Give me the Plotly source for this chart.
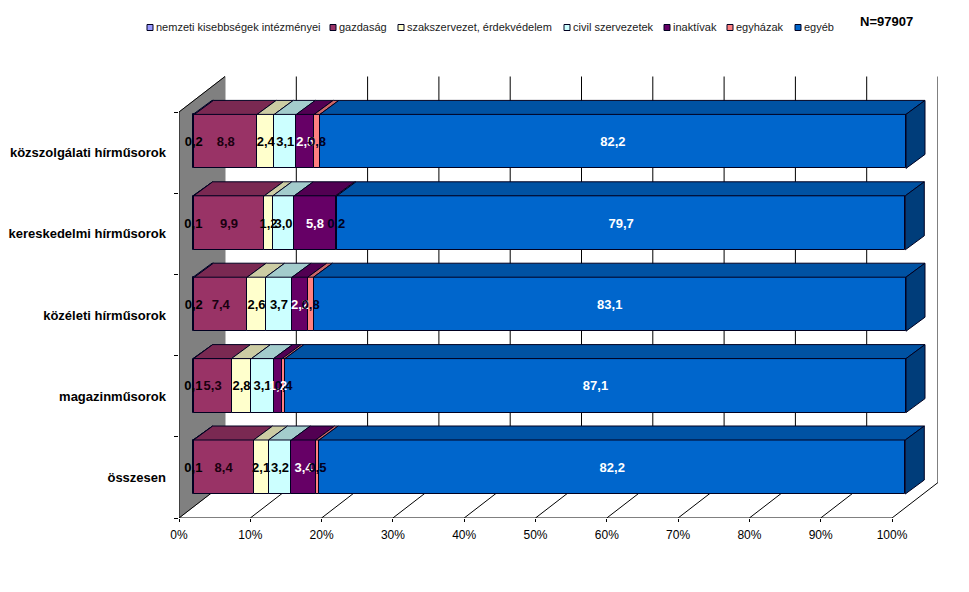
import plotly.graph_objects as go

categories = ["közszolgálati hírműsorok", "kereskedelmi hírműsorok", "közéleti hírműsorok", "magazinműsorok", "összesen"]
series_names = ["nemzeti kisebbségek intézményei", "gazdaság", "szakszervezet, érdekvédelem", "civil szervezetek", "inaktívak", "egyházak", "egyéb"]
nemzeti = [0.2, 0.1, 0.2, 0.1, 0.1]
gazdasag = [8.8, 9.9, 7.4, 5.3, 8.4]
szakszervezet = [2.4, 1.2, 2.6, 2.8, 2.1]
civil = [3.1, 3.0, 3.7, 3.1, 3.2]
inaktivak = [2.5, 5.8, 2.2, 1.2, 3.4]
egyhazak = [0.8, 0.2, 0.8, 0.4, 0.5]
egyeb = [82.2, 79.7, 83.1, 87.1, 82.2]
series_values = [nemzeti, gazdasag, szakszervezet, civil, inaktivak, egyhazak, egyeb]
front_colors = ["#9999FF", "#993366", "#FFFFCC", "#CCFFFF", "#660066", "#FF8080", "#0066CC"]
top_colors = ["#7A7ACC", "#7A2952", "#CCCCA3", "#A3CCCC", "#520052", "#CC6666", "#0052A3"]
side_color = "#003D7A"
label_colors = ["#000000", "#1a0010", "#000000", "#000000", "#FFFFFF", "#000020", "#FFFFFF"]
x_ticks = [0, 10, 20, 30, 40, 50, 60, 70, 80, 90, 100]
legend_swatch_px = [147, 330, 398, 564, 664, 727, 795]
EDGE = "#000020"
FONT = "Liberation Sans, Arial, sans-serif"

W, H = 969, 592
L, R, T, B = 179, 938, 76, 518           # plot area in pixels
X_SCALE = 7.13                            # px per percent
Y_SCALE = 81.2                            # px per category band
Y2_SCALE = 81.4
BAR_X0 = 193                              # px of 0 % on bars' front face
BAR_Y0 = 467                              # px of the lowest bar's centre
WALL_DX = (225 - 179) / X_SCALE
WALL_DY = 35.5 / Y_SCALE
DEPTH_X = 19 / X_SCALE
DEPTH_Y = 14 / Y2_SCALE
BAR_H = 54 / Y2_SCALE
LABEL_DROP = 1.5 / Y2_SCALE

n = len(categories)
ypos = [n - 1 - i for i in range(n)]


def paper_x(px):
    return (px - L) / (R - L)


def paper_y(px):
    return (B - px) / (B - T)


fig = go.Figure()

# left wall
fig.add_trace(go.Scatter(
    x=[0, WALL_DX, WALL_DX, 0, 0],
    y=[-0.5, -0.5 + WALL_DY, n - 0.5 + WALL_DY, n - 0.5, -0.5],
    mode="lines", fill="toself", fillcolor="#808080",
    line=dict(color="#808080", width=1), showlegend=False, hoverinfo="skip",
))
# back and floor grid
gx, gy = [], []
for t in x_ticks[1:]:
    gx += [t, t + WALL_DX, t + WALL_DX, None]
    gy += [-0.5, -0.5 + WALL_DY, n - 0.5 + WALL_DY, None]
fig.add_trace(go.Scatter(x=gx, y=gy, mode="lines", line=dict(color="#000000", width=1),
                         showlegend=False, hoverinfo="skip"))
# axis edges
fig.add_trace(go.Scatter(
    x=[0, 0, None, 0, 100, None, 0, WALL_DX, None, 0, WALL_DX],
    y=[-0.5, n - 0.5, None, -0.5, -0.5, None, -0.5, -0.5 + WALL_DY, None, n - 0.5, n - 0.5 + WALL_DY],
    mode="lines", line=dict(color="#000000", width=1), showlegend=False, hoverinfo="skip"))

# stacked bars on the shifted overlay axes
cum = [0.0] * n
for name, vals, fc, tc in zip(series_names, series_values, front_colors, top_colors):
    fig.add_trace(go.Bar(
        y=ypos, x=vals, base=cum, orientation="h", width=BAR_H, name=name,
        marker=dict(color=fc, line=dict(color=EDGE, width=1)),
        xaxis="x2", yaxis="y2", showlegend=False,
    ))
    tx, ty = [], []
    for b, v, y in zip(cum, vals, ypos):
        yt = y + BAR_H / 2
        tx += [b, b + DEPTH_X, b + v + DEPTH_X, b + v, b, None]
        ty += [yt, yt + DEPTH_Y, yt + DEPTH_Y, yt, yt, None]
    fig.add_trace(go.Scatter(x=tx, y=ty, mode="lines", fill="toself", fillcolor=tc,
                             line=dict(color=EDGE, width=1), xaxis="x2", yaxis="y2",
                             showlegend=False, hoverinfo="skip"))
    cum = [c + v for c, v in zip(cum, vals)]

# end caps on the right
sx, sy = [], []
for c, y in zip(cum, ypos):
    yt, yb = y + BAR_H / 2, y - BAR_H / 2
    sx += [c, c + DEPTH_X, c + DEPTH_X, c, c, None]
    sy += [yt, yt + DEPTH_Y, yb + DEPTH_Y, yb, yt, None]
fig.add_trace(go.Scatter(x=sx, y=sy, mode="lines", fill="toself", fillcolor=side_color,
                         line=dict(color=EDGE, width=1), xaxis="x2", yaxis="y2",
                         showlegend=False, hoverinfo="skip"))

# value labels
cum = [0.0] * n
for vals, lc in zip(series_values, label_colors):
    fig.add_trace(go.Scatter(
        x=[c + v / 2 for c, v in zip(cum, vals)], y=[y - LABEL_DROP for y in ypos], mode="text",
        text=[f"{v:.1f}".replace(".", ",") for v in vals],
        textposition="middle center",
        textfont=dict(family=FONT, size=13, color=lc, weight="bold"),
        xaxis="x2", yaxis="y2", showlegend=False, hoverinfo="skip", cliponaxis=False,
    ))
    cum = [c + v for c, v in zip(cum, vals)]

# legend row
annotations = []
shapes = []
for name, fc, sx_px in zip(series_names, front_colors, legend_swatch_px):
    shapes.append(dict(type="rect", xref="paper", yref="paper",
                       x0=paper_x(sx_px), x1=paper_x(sx_px + 6),
                       y0=paper_y(30.5), y1=paper_y(24.5),
                       fillcolor=fc, line=dict(color="#000020", width=1)))
    annotations.append(dict(xref="paper", yref="paper", x=paper_x(sx_px + 8), y=paper_y(27.5),
                            text=name, showarrow=False, xanchor="left", yanchor="middle",
                            xshift=-1,
                            font=dict(family=FONT, size=11, color="#1a1a1a")))
annotations.append(dict(xref="paper", yref="paper", x=paper_x(886), y=paper_y(22),
                        text="<b>N=97907</b>", showarrow=False, xanchor="center", yanchor="middle",
                        font=dict(family=FONT, size=13, color="#000000")))

fig.update_layout(
    width=W, height=H, autosize=False,
    margin=dict(l=L, r=W - R, t=T, b=H - B, pad=0, autoexpand=False),
    paper_bgcolor="white", plot_bgcolor="white",
    barmode="overlay", bargap=0,
    shapes=shapes, annotations=annotations, showlegend=False,
    xaxis=dict(range=[0, (R - L) / X_SCALE], tickmode="array", tickvals=x_ticks, automargin=False,
               ticktext=[f"{t}%" for t in x_ticks], ticks="outside", ticklen=3, tickcolor="#000000",
               showgrid=False, zeroline=False, showline=False, ticklabelstandoff=3,
               tickfont=dict(family=FONT, size=12, color="#000000")),
    yaxis=dict(range=[-0.5, -0.5 + (B - T) / Y_SCALE], tickmode="array", tickvals=ypos, automargin=False,
               ticktext=categories, ticks="", showgrid=False, zeroline=False, showline=False,
               ticklabelstandoff=12,
               tickfont=dict(family=FONT, size=13, color="#000000", weight="bold"),
               minor=dict(tickmode="array", tickvals=[i - 0.5 for i in range(n + 1)],
                          ticks="outside", ticklen=4, tickcolor="#000000", showgrid=False)),
    xaxis2=dict(overlaying="x", anchor="y2", visible=False,
                range=[(L - BAR_X0) / X_SCALE, (R - BAR_X0) / X_SCALE]),
    yaxis2=dict(overlaying="y", anchor="x2", visible=False,
                range=[(BAR_Y0 - B) / Y2_SCALE, (BAR_Y0 - T) / Y2_SCALE]),
)

fig.write_html("out.html", config={"displayModeBar": False},
               post_script="document.body.style.margin='0';")
